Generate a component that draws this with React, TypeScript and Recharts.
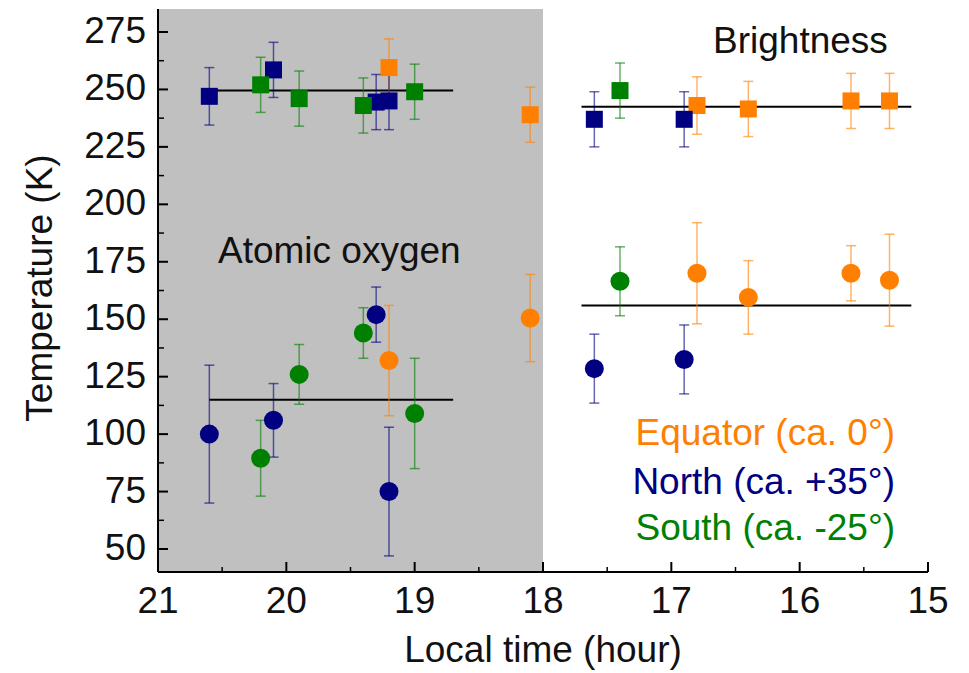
import React from 'react';
import { ScatterChart, Scatter, XAxis, YAxis, ErrorBar, ReferenceArea, ReferenceLine } from 'recharts';

const FONT = '"Liberation Sans", Arial, sans-serif';

// local time (hour) of each observation
const eqTime = [19.2, 18.1, 16.8, 16.4, 15.6, 15.3];
const northTime = [20.6, 20.1, 19.3, 19.2, 17.6, 16.9];
const southTime = [20.2, 19.9, 19.4, 19.0, 17.4];

// brightness temperatures (K) and their errors
const eqBright = [259.5, 239, 243, 241.5, 245, 245];
const eqBrightErr = [12.5, 12, 12.5, 12, 12, 12];
const northBright = [247, 258.5, 244.5, 245, 237, 237];
const northBrightErr = [12.5, 12, 12, 12.5, 12, 12];
const southBright = [252, 246, 243, 249, 249.5];
const southBrightErr = [12, 12, 12, 12, 12];

// atomic oxygen temperatures (K) and their errors
const eqOxygen = [132, 150.5, 170, 159.5, 170, 167];
const eqOxygenErr = [24, 19, 22, 16, 12, 20];
const northOxygen = [100, 106, 152, 75, 128.5, 132.5];
const northOxygenErr = [30, 16, 12, 28, 15, 15];
const southOxygen = [89.5, 126, 144, 109, 166.5];
const southOxygenErr = [16.5, 13, 11, 24, 15];

// mean lines: night / day for brightness, then for oxygen
const meanStart = [20.57, 17.7, 20.6, 17.7];
const meanEnd = [18.7, 15.13, 18.7, 15.13];
const meanTemp = [249.5, 242.5, 115, 156];

const xTicks = [21, 20.5, 20, 19.5, 19, 18.5, 18, 17.5, 17, 16.5, 16, 15.5, 15];
const yTicks = [50, 62.5, 75, 87.5, 100, 112.5, 125, 137.5, 150, 162.5, 175, 187.5, 200, 212.5, 225, 237.5, 250, 262.5, 275];

const ORANGE = '#ff8000';
const NAVY = '#000080';
const GREEN = '#008000';

const toPoints = (xs: number[], ys: number[], errs: number[]) =>
  xs.map((x, i) => ({ x, y: ys[i], err: errs[i] }));

const series = [
  { name: 'eq-b', data: toPoints(eqTime, eqBright, eqBrightErr), color: ORANGE, square: true },
  { name: 'n-b', data: toPoints(northTime, northBright, northBrightErr), color: NAVY, square: true },
  { name: 's-b', data: toPoints(southTime, southBright, southBrightErr), color: GREEN, square: true },
  { name: 'eq-o', data: toPoints(eqTime, eqOxygen, eqOxygenErr), color: ORANGE, square: false },
  { name: 'n-o', data: toPoints(northTime, northOxygen, northOxygenErr), color: NAVY, square: false },
  { name: 's-o', data: toPoints(southTime, southOxygen, southOxygenErr), color: GREEN, square: false },
];

const textStyle = { fontFamily: FONT, fontSize: 37, fill: '#111' };

const BottomTick = (props: any) => {
  const { x, y, payload } = props;
  const major = payload.value % 1 === 0;
  return (
    <g>
      <line x1={x} x2={x} y1={y} y2={y - (major ? 10 : 5)} stroke="#000" strokeWidth={major ? 2 : 1.5} />
      {major && (
        <text x={x} y={y + 41} textAnchor="middle" style={textStyle}>
          {payload.value}
        </text>
      )}
    </g>
  );
};

const TopTick = (props: any) => {
  const { x, y, payload } = props;
  const major = payload.value % 1 === 0;
  return <line x1={x} x2={x} y1={y} y2={y + (major ? 10 : 5)} stroke="#000" strokeWidth={major ? 2 : 1.5} />;
};

const LeftTick = (props: any) => {
  const { x, y, payload } = props;
  const major = payload.value % 25 === 0;
  return (
    <g>
      <line x1={x} x2={x + (major ? 10 : 6)} y1={y} y2={y} stroke="#000" strokeWidth={major ? 2 : 1.5} />
      {major && (
        <text x={x - 12} y={y + 11} textAnchor="end" style={textStyle}>
          {payload.value}
        </text>
      )}
    </g>
  );
};

const RightTick = (props: any) => {
  const { x, y, payload } = props;
  const major = payload.value % 25 === 0;
  return <line x1={x} x2={x - (major ? 10 : 6)} y1={y} y2={y} stroke="#000" strokeWidth={major ? 2 : 1.5} />;
};

const makeShape = (color: string, square: boolean) => (props: any) => {
  const { cx, cy } = props;
  if (square) return <rect x={cx - 8.5} y={cy - 8.5} width={17} height={17} fill={color} />;
  return <circle cx={cx} cy={cy} r={9.5} fill={color} />;
};

const axisLine = { stroke: '#000', strokeWidth: 2 };

export default function App() {
  return (
    <div style={{ position: 'relative', width: 961, height: 665 }}>
      <ScatterChart width={961} height={665} margin={{ top: 1, right: 41, bottom: 0, left: 0 }}>
        <XAxis
          xAxisId="x"
          dataKey="x"
          type="number"
          domain={[15, 21]}
          reversed
          allowDataOverflow
          ticks={xTicks}
          interval={0}
          height={101}
          tickSize={0}
          tickMargin={0}
          tickLine={false}
          axisLine={axisLine}
          tick={<BottomTick />}
        />
        <XAxis
          xAxisId="t"
          orientation="top"
          type="number"
          domain={[15, 21]}
          reversed
          allowDataOverflow
          ticks={xTicks}
          interval={0}
          height={0}
          tickSize={0}
          tickMargin={0}
          tickLine={false}
          axisLine={axisLine}
          tick={<TopTick />}
        />
        <YAxis
          yAxisId="y"
          dataKey="y"
          type="number"
          domain={[40, 285]}
          allowDataOverflow
          ticks={yTicks}
          interval={0}
          width={150}
          tickSize={0}
          tickMargin={0}
          tickLine={false}
          axisLine={axisLine}
          tick={<LeftTick />}
        />
        <YAxis
          yAxisId="r"
          orientation="right"
          type="number"
          domain={[40, 285]}
          allowDataOverflow
          ticks={yTicks}
          interval={0}
          width={0}
          tickSize={0}
          tickMargin={0}
          tickLine={false}
          axisLine={axisLine}
          tick={<RightTick />}
        />
        <ReferenceArea xAxisId="x" yAxisId="y" x1={21} x2={18} fill="#c0c0c0" fillOpacity={1} stroke="none" />
        {meanTemp.map((t, i) => (
          <ReferenceLine
            key={i}
            xAxisId="x"
            yAxisId="y"
            segment={[
              { x: meanStart[i], y: t },
              { x: meanEnd[i], y: t },
            ]}
            stroke="#000"
            strokeWidth={2}
          />
        ))}
        {series.map((s) => (
          <Scatter
            key={s.name}
            xAxisId="x"
            yAxisId="y"
            data={s.data}
            fill={s.color}
            shape={makeShape(s.color, s.square)}
            isAnimationActive={false}
          >
            <ErrorBar dataKey="err" direction="y" width={5} stroke={s.color} strokeOpacity={0.6} strokeWidth={1.5} />
          </Scatter>
        ))}
      </ScatterChart>
      <svg
        width={961}
        height={665}
        style={{ position: 'absolute', left: 0, top: 0, pointerEvents: 'none' }}
      >
        <text x={705} y={45} style={textStyle}>Brightness</text>
        <text x={210} y={255} style={textStyle}>Atomic oxygen</text>
        <text x={887} y={437} textAnchor="end" style={{ ...textStyle, fill: ORANGE }}>Equator (ca. 0°)</text>
        <text x={887} y={486} textAnchor="end" style={{ ...textStyle, fill: NAVY }}>North (ca. +35°)</text>
        <text x={887} y={532} textAnchor="end" style={{ ...textStyle, fill: GREEN }}>South (ca. -25°)</text>
        <text x={535} y={654} textAnchor="middle" style={textStyle}>Local time (hour)</text>
        <text x={44} y={280} textAnchor="middle" transform="rotate(-90 44 280)" style={textStyle}>
          Temperature (K)
        </text>
      </svg>
    </div>
  );
}
